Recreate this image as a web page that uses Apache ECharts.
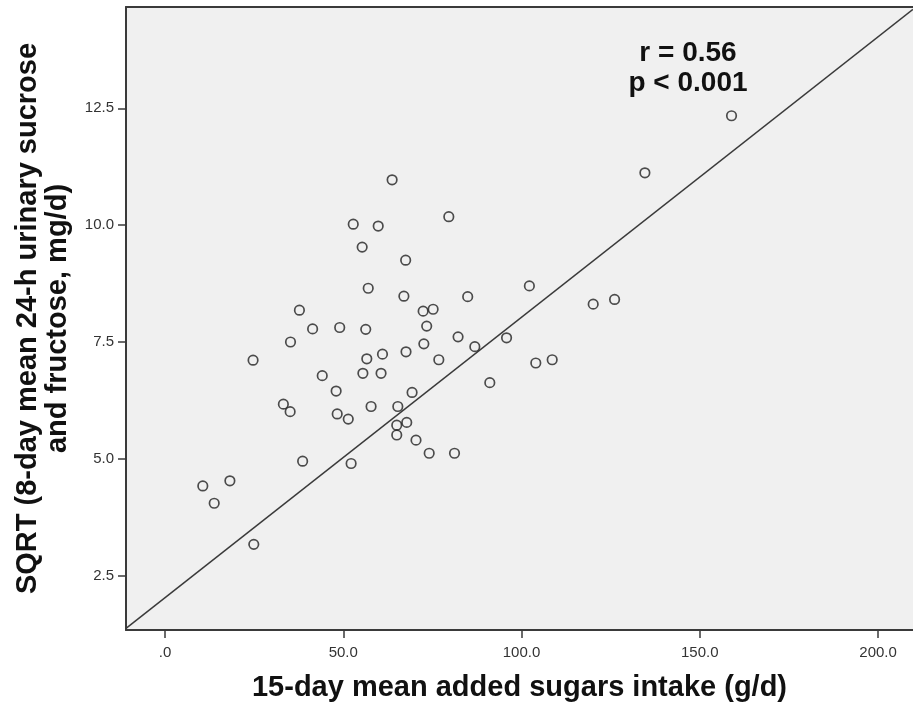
<!DOCTYPE html>
<html>
<head>
    <meta charset="utf-8">
    <title>Added sugars vs urinary sugars</title>
    <script src="https://cdn.jsdelivr.net/npm/echarts@6.0.0/dist/echarts.min.js"></script>
    <style>
        html, body { margin: 0; padding: 0; background: #fff; }
    </style>
</head>
<body>
<div id="main" style="width: 913px;height:708px;"></div>
<script type="text/javascript">
    // 15-day mean added sugars intake (g/d)
    var sugarIntake = [
        158.9, 134.6, 63.7, 79.6, 52.8, 59.8, 55.3, 67.5, 57.0, 67.0,
        84.9, 102.2, 37.7, 72.4, 75.2, 120.1, 126.1, 41.4, 49.0, 56.3,
        73.4, 35.2, 82.2, 95.8, 86.9, 72.6, 24.7, 56.6, 61.0, 67.6,
        76.8, 108.6, 104.0, 44.1, 55.5, 60.6, 48.0, 69.3, 91.1, 33.2,
        35.1, 57.8, 48.3, 51.4, 65.3, 67.8, 65.0, 65.0, 70.4, 38.6,
        52.2, 74.1, 81.2, 10.6, 18.2, 13.8, 24.9
    ];
    // SQRT of 8-day mean 24-h urinary sucrose + fructose
    var sqrtUrinary = [
        12.34, 11.12, 10.97, 10.18, 10.02, 9.98, 9.53, 9.25, 8.65, 8.48,
        8.47, 8.70, 8.18, 8.16, 8.20, 8.31, 8.41, 7.78, 7.81, 7.77,
        7.84, 7.50, 7.61, 7.59, 7.40, 7.46, 7.11, 7.14, 7.24, 7.29,
        7.12, 7.12, 7.05, 6.78, 6.83, 6.83, 6.45, 6.42, 6.63, 6.17,
        6.01, 6.12, 5.96, 5.85, 6.12, 5.78, 5.72, 5.51, 5.40, 4.95,
        4.90, 5.12, 5.12, 4.42, 4.53, 4.05, 3.17
    ];
    var xTicks = [0, 50, 100, 150, 200];
    var yTicks = [2.5, 5, 7.5, 10, 12.5];
    var xRange = [-10.94, 209.8];
    var yRange = [1.338, 14.667];
    // fit line y = a + b*x
    var fitIntercept = 2.03;
    var fitSlope = 0.06;

    var points = sugarIntake.map(function (x, i) { return [x, sqrtUrinary[i]]; });
    var fitLine = xRange.map(function (x) { return [x, fitIntercept + fitSlope * x]; });

    var font = "'Liberation Sans', Arial, sans-serif";
    var dark = '#3a3a3a';

    var myChart = echarts.init(document.getElementById('main'));
    var option = {
        animation: false,
        backgroundColor: '#ffffff',
        grid: {
            left: 126, right: 0, top: 7, bottom: 78,
            show: true,
            backgroundColor: '#f0f0f0',
            borderWidth: 0
        },
        xAxis: [{
            type: 'value',
            min: xRange[0],
            max: xRange[1],
            name: '15-day mean added sugars intake (g/d)',
            nameLocation: 'middle',
            nameGap: 43,
            nameTextStyle: { fontFamily: font, fontSize: 29, fontWeight: 'bold', color: '#111' },
            axisLine: { show: true, onZero: false, lineStyle: { color: dark, width: 2 } },
            axisTick: { show: true, customValues: xTicks, length: 8, lineStyle: { color: dark, width: 1.5 } },
            axisLabel: {
                customValues: xTicks,
                margin: 15,
                fontFamily: font, fontSize: 15, color: '#333',
                formatter: function (v) { return v === 0 ? '.0' : v.toFixed(1); }
            },
            splitLine: { show: false }
        }, {
            // top frame line only
            type: 'value',
            position: 'top',
            min: xRange[0],
            max: xRange[1],
            axisLine: { show: true, onZero: false, lineStyle: { color: dark, width: 2 } },
            axisTick: { show: false },
            axisLabel: { show: false },
            splitLine: { show: false }
        }],
        yAxis: {
            type: 'value',
            min: yRange[0],
            max: yRange[1],
            name: 'SQRT (8-day mean 24-h urinary sucrose\nand fructose, mg/d)',
            nameLocation: 'middle',
            nameRotate: 90,
            nameGap: 53,
            nameTextStyle: { fontFamily: font, fontSize: 29, fontWeight: 'bold', color: '#111', lineHeight: 30, align: 'center' },
            axisLine: { show: true, onZero: false, lineStyle: { color: dark, width: 2 } },
            axisTick: { show: true, customValues: yTicks, length: 8, lineStyle: { color: dark, width: 1.5 } },
            axisLabel: {
                customValues: yTicks,
                margin: 12,
                fontFamily: font, fontSize: 15, color: '#333',
                formatter: function (v) { return v.toFixed(1); }
            },
            splitLine: { show: false }
        },
        graphic: [{
            type: 'text',
            x: 688,
            y: 68,
            style: {
                text: 'r = 0.56\np < 0.001',
                font: 'bold 28px ' + font,
                fill: '#111',
                textAlign: 'center',
                textVerticalAlign: 'middle',
                lineHeight: 30
            }
        }],
        series: [{
            type: 'line',
            data: fitLine,
            symbol: 'none',
            clip: true,
            lineStyle: { color: dark, width: 1.5 },
            z: 1
        }, {
            type: 'scatter',
            data: points,
            symbol: 'circle',
            symbolSize: 9.5,
            itemStyle: { color: 'rgba(0,0,0,0)', borderColor: '#222', borderWidth: 1.7 },
            z: 2
        }]
    };
    myChart.setOption(option);
</script>
</body>
</html>
